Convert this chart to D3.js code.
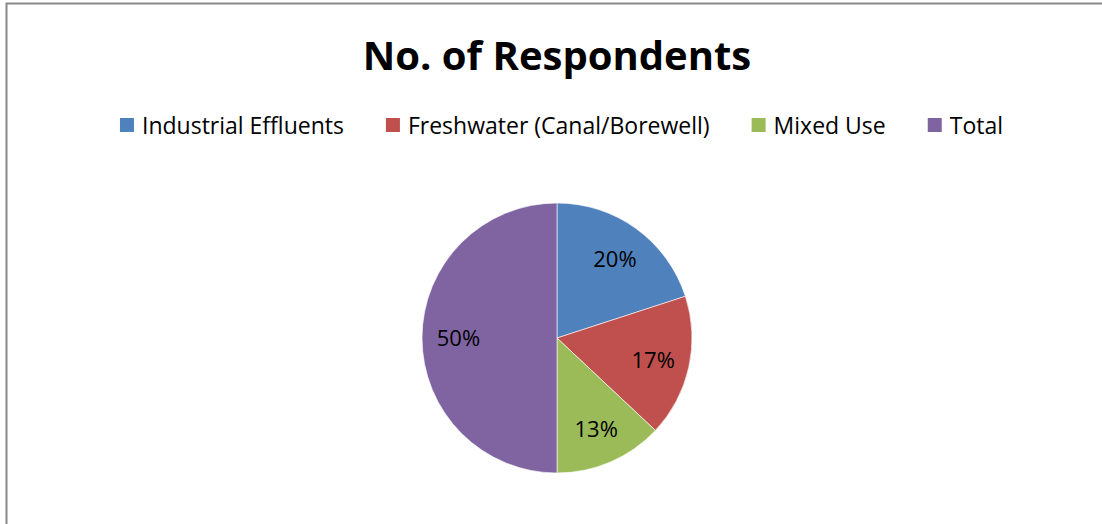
<!DOCTYPE html>
<html>
<head>
<meta charset="utf-8">
<script src="https://cdn.jsdelivr.net/npm/d3@7"></script>
<style>
  body { margin: 0; background: #fff; }
  svg { display: block; font-family: "Open Sans", "Noto Sans", sans-serif; }
</style>
</head>
<body>
<svg width="1102" height="524"></svg>
<script>
// categories + counts (read as shares: 20 / 17 / 13 / 50 %)
const categories = ['Industrial Effluents', 'Freshwater (Canal/Borewell)', 'Mixed Use', 'Total'];
const counts = [40, 34, 26, 100];
const colors = ['#4F81BD', '#C0504D', '#9BBB59', '#8064A2'];

const svg = d3.select('svg');
const W = 1102, H = 524;

// chart border (only left + top visible in the crop)
svg.append('path')
  .attr('d', 'M6.5,' + H + ' V3.5 H' + W)
  .attr('fill', 'none')
  .attr('stroke', '#888')
  .attr('stroke-width', 2);

// title
svg.append('text')
  .attr('x', 557).attr('y', 70)
  .attr('text-anchor', 'middle')
  .attr('font-size', 40)
  .attr('font-weight', 'bold')
  .attr('fill', '#000')
  .text('No. of Respondents');

// legend
const legend = svg.append('g');
const legItems = legend.selectAll('g')
  .data(categories)
  .join('g');
legItems.append('rect')
  .attr('width', 14).attr('height', 14)
  .attr('y', 118)
  .attr('fill', (d, i) => colors[i]);
legItems.append('text')
  .attr('x', 22).attr('y', 134)
  .attr('font-size', 23)
  .attr('fill', '#000')
  .text(d => d);

// lay out items from left, with gaps
let cx = 0;
const gap = 42;
legItems.each(function() {
  const w = this.querySelector('text').getComputedTextLength() + 22;
  d3.select(this).attr('transform', 'translate(' + cx + ',0)');
  cx += w + gap;
});
const totalW = cx - gap;
legend.attr('transform', 'translate(' + (561.5 - totalW / 2) + ',0)');

// pie
const r = 135;
const cxp = 557, cyp = 338;
const pie = d3.pie().sort(null).value(d => d);
const arcs = pie(counts);
const arc = d3.arc().innerRadius(0).outerRadius(r);
const labelArc = d3.arc().innerRadius(r * 0.73).outerRadius(r * 0.73);
const total = d3.sum(counts);

const g = svg.append('g').attr('transform', 'translate(' + cxp + ',' + cyp + ')');
g.selectAll('path')
  .data(arcs)
  .join('path')
  .attr('d', arc)
  .attr('fill', (d, i) => colors[i])
  .attr('stroke', '#fff')
  .attr('stroke-width', 0.6);

g.selectAll('text')
  .data(arcs)
  .join('text')
  .attr('transform', d => 'translate(' + labelArc.centroid(d) + ')')
  .attr('text-anchor', 'middle')
  .attr('dy', '0.38em')
  .attr('font-size', 22)
  .attr('fill', '#000')
  .text(d => Math.round(d.data / total * 100) + '%');
</script>
</body>
</html>
